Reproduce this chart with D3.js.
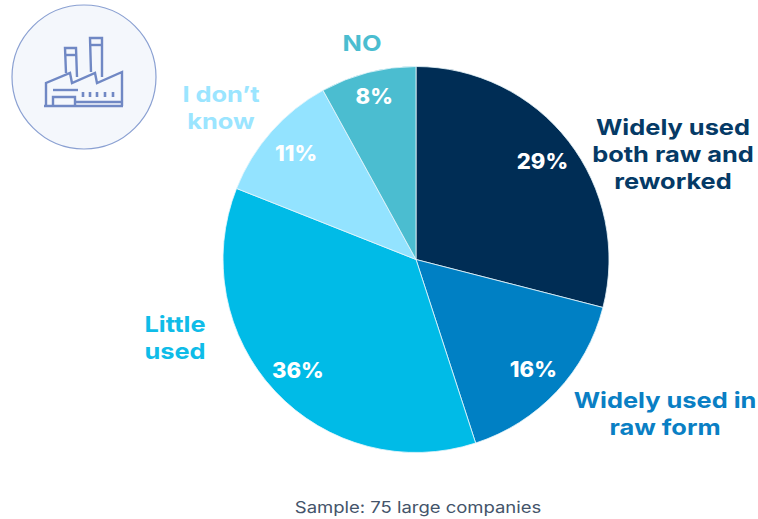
<!DOCTYPE html>
<html>
<head>
<meta charset="utf-8">
<style>
  html, body { margin: 0; padding: 0; background: #fff; }
  svg { display: block; }
  text { font-family: Inter, "Open Sans", sans-serif; }
</style>
<script src="https://cdn.jsdelivr.net/npm/d3@7"></script>
</head>
<body>
<svg id="chart" width="758" height="519"></svg>
<script>
// Survey shares, clockwise from twelve o'clock
const categories = ["Widely used both raw and reworked", "Widely used in raw form", "Little used", "I don\u2019t know", "NO"];
const shares = [29, 16, 36, 11, 8];
const sliceColours = ["#002d55", "#0080c4", "#00bbe7", "#93e3ff", "#4bbdd0"];
const labelColours = ["#053a66", "#0a7fc4", "#0fbce8", "#9be5ff", "#4bbdd0"];
const labelLines = [["Widely used", "both raw and", "reworked"], ["Widely used in", "raw form"], ["Little", "used"], ["I don\u2019t", "know"], ["NO"]];
const labelAnchors = [[673, 127], [665, 400], [175, 324], [221, 94], [362, 43]];
const valueRadii = [160, 161, 162, 160, 168];
const sampleNote = "Sample: 75 large companies";

const svg = d3.select("#chart");
const cx = 416, cy = 259.5, radius = 193;
const widen = 1.155; // stretches the sans to a geometric, wide-set look

const pie = d3.pie().sort(null).value(d => d)(shares);
const arc = d3.arc().innerRadius(0).outerRadius(radius);

const g = svg.append("g").attr("transform", `translate(${cx},${cy})`);

g.selectAll("path")
  .data(pie)
  .join("path")
  .attr("d", arc)
  .attr("fill", (d, i) => sliceColours[i])
  .attr("stroke", "#e8f6fb")
  .attr("stroke-width", 0.8);

// Percentages inside the slices
g.selectAll("text.value")
  .data(pie)
  .join("text")
  .attr("class", "value")
  .attr("transform", (d, i) => {
    const [x, y] = d3.arc().innerRadius(valueRadii[i]).outerRadius(valueRadii[i]).centroid(d);
    return `translate(${x},${y}) scale(1.05,1)`;
  })
  .attr("text-anchor", "middle")
  .attr("dy", "0.36em")
  .attr("fill", "#fff")
  .attr("font-size", 21)
  .attr("font-weight", 800)
  .text(d => d.value + "%");

// Category names outside the pie
labelLines.forEach((lines, i) => {
  const [x, y] = labelAnchors[i];
  const t = svg.append("text")
    .attr("transform", `translate(${x},${y}) scale(${widen},1)`)
    .attr("text-anchor", "middle")
    .attr("fill", labelColours[i])
    .attr("font-size", 22)
    .attr("font-weight", 700);
  lines.forEach((line, j) => {
    t.append("tspan").attr("x", 0).attr("y", 8 + j * 27).text(line);
  });
});

svg.append("text")
  .attr("transform", `translate(418,513) scale(${widen},1)`)
  .attr("text-anchor", "middle")
  .attr("fill", "#44546a")
  .attr("font-size", 16)
  .text(sampleNote);

// Factory badge
const badge = svg.append("g");
badge.append("circle")
  .attr("cx", 84).attr("cy", 77).attr("r", 72)
  .attr("fill", "#f4f7fc").attr("stroke", "#8aa0d2").attr("stroke-width", 1.2);

const icon = badge.append("g")
  .attr("fill", "none").attr("stroke", "#7088c4").attr("stroke-width", 2.4);
[
  "M46,106 V83 L70,73 L72,83 L95,73 L97,83 L122,72 V106",
  "M44,106 H123",
  "M66,73 L65,48 H76 L77,77",
  "M65,55 H76",
  "M91,72 L90,38 H102 L102,77",
  "M90,45 H102",
  "M53,90 H78",
  "M53,106 V97 H75 V106",
  "M75,102 H122"
].forEach(d => icon.append("path").attr("d", d));
icon.append("path")
  .attr("d", "M83,92 V97 M90,92 V97 M97,92 V97 M105,92 V97 M113,92 V97")
  .attr("stroke-width", 2.6);
</script>
</body>
</html>
